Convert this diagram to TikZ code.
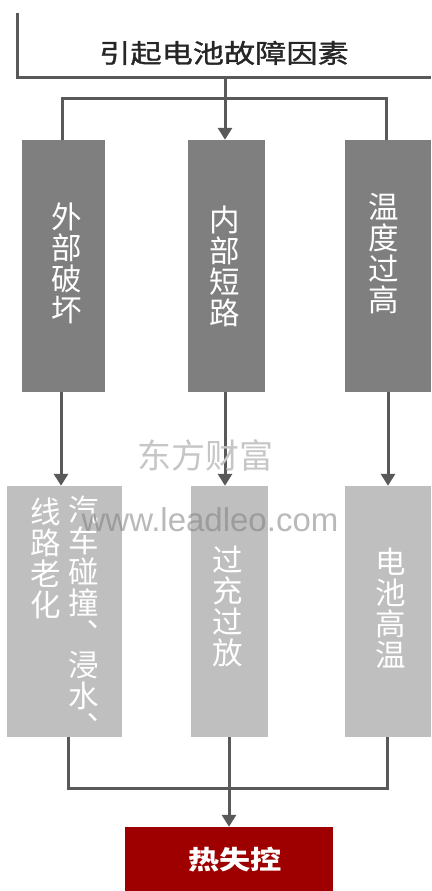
\documentclass[tikz,border=0pt]{standalone}
\usepackage{fontspec}
\usetikzlibrary{arrows.meta}
\newfontfamily\cjk{Noto Sans CJK SC}
\newfontfamily\cjkwide[FakeStretch=1.2,FakeBold=1.2]{Noto Sans CJK SC}
\newfontfamily\cjkwideb[FakeStretch=1.2]{Noto Sans CJK SC}
\newfontfamily\wmfont{Liberation Sans}
\definecolor{linegray}{HTML}{595959}
\definecolor{darkbox}{HTML}{7F7F7F}
\definecolor{lightbox}{HTML}{BFBFBF}
\definecolor{redbox}{HTML}{9E0000}
\tikzset{
  conn/.style={draw=linegray, line width=3pt},
  arr/.style={conn, -{Triangle[width=14pt,length=12pt]}},
  dbox/.style={fill=darkbox, draw=none, minimum height=252pt, inner sep=0pt},
  lbox/.style={fill=lightbox, draw=none, minimum height=251pt, inner sep=0pt},
  vtext/.style={text=white, font=\cjk\fontsize{30.5}{31}\selectfont, align=center, anchor=north, inner sep=0pt},
  wm/.style={inner sep=0pt}
}
\begin{document}
\begin{tikzpicture}[x=1pt,y=-1pt]
\useasboundingbox (0,0) rectangle (431,891);
% title bracket
\coordinate (tl) at (17,13);
\coordinate (tr) at (431,77);
\draw[conn] (tl) |- (tr);
\node[text=black!85, font=\cjkwide\fontsize{26}{28}\selectfont, inner sep=0pt] (title) at (224,53) {引起电池故障因素};
% dark boxes
\node[dbox, minimum width=83pt] (d1) at (63.5,266) {};
\node[dbox, minimum width=77pt] (d2) at (226.5,266) {};
\node[dbox, minimum width=86pt] (d3) at (388,266) {};
\node[vtext] (t1) at (67,203) {外\\部\\破\\坏};
\node[vtext] (t2) at (225,206) {内\\部\\短\\路};
\node[vtext] (t3) at (384,193) {温\\度\\过\\高};
% top connectors
\coordinate (hub) at (225,78);
\draw[arr] (hub) -- (hub |- d2.north);
\coordinate (b1) at (62,98);
\coordinate (b3) at (386,98);
\draw[conn] (b1 |- d1.north) -- (b1) -- (b3) -- (b3 |- d3.north);
% light boxes
\node[lbox, minimum width=115pt] (l1) at (64.5,611.5) {};
\node[lbox, minimum width=77pt] (l2) at (229.5,611.5) {};
\node[lbox, minimum width=86pt] (l3) at (388,611.5) {};
\node[vtext] (u1a) at (46,498) {线\\路\\老\\化};
\node[vtext] (u1b) at (84,496) {汽\\车\\碰\\撞\\︑\\浸\\水\\︑};
\node[vtext] (u2) at (228,546) {过\\充\\过\\放};
\node[vtext] (u3) at (391,548) {电\\池\\高\\温};
% middle arrows
\coordinate (c1) at (61,0);
\coordinate (c2) at (225,0);
\coordinate (c3) at (388,0);
\draw[arr] (c1 |- d1.south) -- (c1 |- l1.north);
\draw[arr] (c2 |- d2.south) -- (c2 |- l2.north);
\draw[arr] (c3 |- d3.south) -- (c3 |- l3.north);
% red box
\node[fill=redbox, draw=none, minimum width=208pt, minimum height=66pt, inner sep=0pt] (r) at (229,860) {};
\node[text=white, font=\cjkwideb\bfseries\fontsize{26}{28}\selectfont, inner sep=0pt] (rt) at (235,860) {热失控};
% lower connectors
\coordinate (m1) at (68,788);
\coordinate (m3) at (387,788);
\coordinate (mc) at (229,0);
\draw[conn] (m1 |- l1.south) -- (m1) -- (m3) -- (m3 |- l3.south);
\draw[arr] (mc |- l2.south) -- (mc |- r.north);
% watermarks
\node[wm, text=gray!45, font=\cjk\fontsize{34}{36}\selectfont] (wm1) at (205,455) {东方财富};
\node[wm, text=gray, opacity=0.55, font=\wmfont\fontsize{33}{36}\selectfont] (wm2) at (210,520) {www.leadleo.com};
\end{tikzpicture}
\end{document}
